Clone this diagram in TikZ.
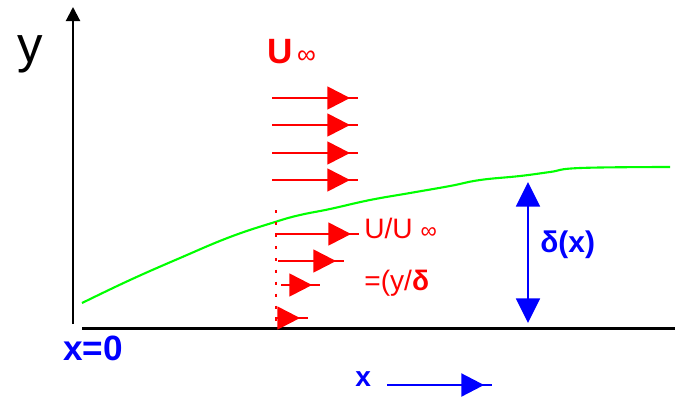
\documentclass[tikz,border=0pt]{standalone}
\usepackage{fontspec}
\setmainfont{Liberation Sans}
\usetikzlibrary{arrows.meta,decorations.markings}
\definecolor{flowred}{RGB}{255,0,0}
\definecolor{dimblue}{RGB}{0,0,255}
\definecolor{edgegreen}{RGB}{0,255,0}

\begin{document}
\begin{tikzpicture}[
        x=0.02cm, y=-0.02cm,
        axis/.style={draw=black, line width=1.2pt},
        vel/.style={draw=flowred, line width=1.3pt, postaction={decorate},
            decoration={markings, mark=at position -4.5pt with {\arrow[flowred]{Triangle[length=13pt,width=13pt]}}}},
        dim/.style={draw=dimblue, line width=1.6pt, postaction={decorate},
            decoration={markings, mark=at position -4.5pt with {\arrow[dimblue]{Triangle[length=13pt,width=13pt]}}}},
        lbl/.style={inner sep=0pt, anchor=base west}
    ]
        \useasboundingbox (0,0) rectangle (675,397);

        % axes
        \coordinate (yfoot) at (73,324);
        \coordinate (ytop) at (73,7);
        \coordinate (xleft) at (82,328);
        \coordinate (xright) at (675,328);
        \draw[axis, -{Triangle[length=8pt,width=8pt]}] (yfoot) -- (ytop);
        \draw[axis, line width=1.7pt] (xleft) -- (xright);
        \node[lbl, font=\fontsize{29}{30}\selectfont] (ylab) at (17,62) {y};
        \node[lbl, text=dimblue, font=\fontsize{20}{22}\selectfont\bfseries] (xzero) at (63,360) {x=0};

        % boundary layer edge
        \draw[edgegreen, line width=1.2pt] plot[smooth, tension=0.7] coordinates {
            (82,303) (130,280) (180,258) (230,237) (275,222) (300,215) (330,209)
            (370,200) (410,193) (450,186) (480,180) (520,176) (550,172) (580,168) (670,167)};

        % free stream
        \node[lbl, text=flowred, font=\fontsize{20}{22}\selectfont\bfseries] (uinf) at (267,63) {U\fontsize{15}{16}\selectfont\mdseries\,∞};
        \foreach \yy/\name in {98/fa,125/fb,153/fc,180/fd} {
            \coordinate (\name0) at (272,\yy);
            \coordinate (\name1) at (358,\yy);
            \draw[vel] (\name0) -- (\name1);
        }

        % profile inside the layer
        \coordinate (wall0) at (276,210);
        \coordinate (wall1) at (276,324);
        \draw[flowred, line width=1.7pt, dash pattern=on 1.7pt off 5.1pt] (wall0) -- (wall1);
        \foreach \yy/\xs/\xe/\name in {234/275/359/pa,261/278/344/pb,285/281/320/pc,318/275/308/pd} {
            \coordinate (\name0) at (\xs,\yy);
            \coordinate (\name1) at (\xe,\yy);
            \draw[vel] (\name0) -- (\name1);
        }
        \node[lbl, text=flowred, font=\fontsize{16}{18}\selectfont] (ratio) at (364,238) {U/U \fontsize{13}{14}\selectfont∞};
        \node[lbl, text=flowred, font=\fontsize{16}{18}\selectfont] (eta) at (364,290) {=(y/\textbf{δ}};

        % thickness
        \coordinate (dtop) at (528,182);
        \coordinate (dbot) at (528,323);
        \draw[dimblue, line width=1.6pt, {Triangle[length=14pt,width=13.5pt]}-{Triangle[length=14pt,width=13.5pt]}] (dtop) -- (dbot);
        \node[lbl, text=dimblue, font=\fontsize{17}{18}\selectfont\bfseries] (delta) at (540,252) {δ(x)};

        % x direction
        \node[lbl, text=dimblue, font=\fontsize{16}{18}\selectfont\bfseries] (xlab) at (355,386) {x};
        \coordinate (xa0) at (387,385);
        \coordinate (xa1) at (492,385);
        \draw[dim] (xa0) -- (xa1);
    \end{tikzpicture}
\end{document}
